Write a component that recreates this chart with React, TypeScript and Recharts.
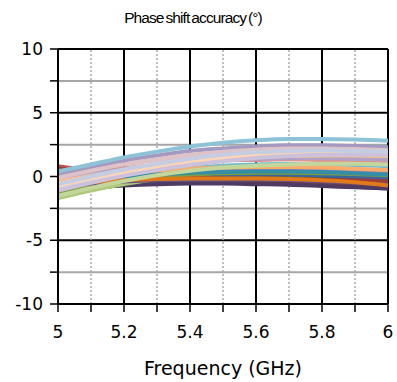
import { LineChart, Line, XAxis, YAxis, ReferenceLine, Label } from "recharts";

const freqs = [5, 5.1, 5.2, 5.3, 5.4, 5.5, 5.6, 5.7, 5.8, 5.9, 6];
const xTicks = [5, 5.1, 5.2, 5.3, 5.4, 5.5, 5.6, 5.7, 5.8, 5.9, 6];
const yTicks = [-10, -7.5, -5, -2.5, 0, 2.5, 5, 7.5, 10];

// phase error per state (deg), one row per phase state
const phaseError: number[][] = [
  [-1.0, -0.7, -0.45, -0.25, -0.1, 0.0, 0.05, 0.05, 0.0, -0.1, -0.25],
  [0.8, 0.45, 0.15, -0.05, -0.15, -0.2, -0.25, -0.3, -0.35, -0.45, -0.55],
  [-1.3, -0.85, -0.45, -0.15, 0.05, 0.15, 0.2, 0.2, 0.15, 0.05, -0.05],
  [-0.9, -0.75, -0.6, -0.5, -0.45, -0.45, -0.5, -0.55, -0.65, -0.8, -0.95],
  [-0.6, -0.4, -0.2, -0.05, 0.05, 0.1, 0.15, 0.15, 0.1, 0.0, -0.1],
  [-0.8, -0.6, -0.4, -0.25, -0.15, -0.1, -0.1, -0.15, -0.25, -0.4, -0.6],
  [-1.1, -0.8, -0.55, -0.4, -0.3, -0.25, -0.2, -0.2, -0.25, -0.35, -0.5],
  [0.5, 0.25, 0.05, -0.1, -0.2, -0.3, -0.35, -0.4, -0.45, -0.55, -0.65],
  [-1.5, -1.0, -0.6, -0.3, -0.1, 0.0, 0.05, 0.05, 0.0, -0.1, -0.2],
  [-1.0, -0.85, -0.7, -0.6, -0.55, -0.55, -0.6, -0.65, -0.75, -0.85, -0.95],
  [-0.7, -0.5, -0.3, -0.15, -0.05, 0.0, 0.0, 0.0, -0.05, -0.15, -0.25],
  [-0.5, -0.35, -0.25, -0.15, -0.1, -0.1, -0.1, -0.15, -0.25, -0.4, -0.55],
  [-0.8, -0.4, -0.05, 0.25, 0.45, 0.6, 0.65, 0.65, 0.6, 0.5, 0.35],
  [0.3, 0.3, 0.3, 0.3, 0.3, 0.3, 0.3, 0.25, 0.2, 0.1, 0.0],
  [-1.7, -1.1, -0.6, -0.2, 0.1, 0.3, 0.4, 0.45, 0.4, 0.35, 0.25],
  [-0.6, -0.3, 0.0, 0.2, 0.35, 0.45, 0.5, 0.5, 0.45, 0.35, 0.2],
  [-0.4, -0.05, 0.25, 0.5, 0.7, 0.85, 0.95, 1.0, 0.95, 0.9, 0.8],
  [-0.3, 0.0, 0.25, 0.45, 0.6, 0.7, 0.75, 0.75, 0.7, 0.6, 0.5],
  [-0.9, -0.6, -0.35, -0.15, 0.0, 0.1, 0.15, 0.15, 0.1, 0.0, -0.1],
  [0.6, 0.35, 0.15, 0.0, -0.1, -0.15, -0.2, -0.2, -0.25, -0.3, -0.4],
  [-1.2, -0.75, -0.35, -0.05, 0.15, 0.25, 0.3, 0.3, 0.25, 0.2, 0.1],
  [-0.7, -0.55, -0.4, -0.3, -0.25, -0.25, -0.25, -0.3, -0.4, -0.5, -0.65],
  [-0.5, -0.25, 0.0, 0.15, 0.3, 0.35, 0.4, 0.4, 0.35, 0.25, 0.15],
  [-0.6, -0.45, -0.3, -0.2, -0.15, -0.15, -0.15, -0.2, -0.3, -0.45, -0.7],
  [-0.3, 0.15, 0.55, 0.9, 1.15, 1.35, 1.45, 1.5, 1.5, 1.45, 1.4],
  [0.0, 0.35, 0.65, 0.9, 1.1, 1.25, 1.3, 1.35, 1.3, 1.25, 1.15],
  [-1.5, -0.9, -0.35, 0.1, 0.45, 0.7, 0.85, 0.95, 1.0, 1.0, 0.95],
  [-0.2, 0.2, 0.55, 0.85, 1.1, 1.3, 1.4, 1.45, 1.45, 1.4, 1.35],
  [-0.5, 0.05, 0.5, 0.9, 1.25, 1.5, 1.7, 1.8, 1.85, 1.85, 1.8],
  [-0.4, 0.05, 0.45, 0.8, 1.1, 1.35, 1.5, 1.6, 1.65, 1.65, 1.6],
  [-0.9, -0.3, 0.25, 0.7, 1.1, 1.4, 1.6, 1.75, 1.8, 1.8, 1.75],
  [0.1, 0.55, 0.95, 1.3, 1.6, 1.8, 1.95, 2.0, 2.0, 1.95, 1.9],
  [-0.7, -0.15, 0.35, 0.8, 1.15, 1.45, 1.65, 1.8, 1.85, 1.85, 1.8],
  [-1.1, -0.5, 0.05, 0.5, 0.9, 1.2, 1.45, 1.6, 1.7, 1.7, 1.7],
  [0.2, 0.75, 1.25, 1.65, 2.0, 2.2, 2.35, 2.45, 2.45, 2.4, 2.3],
  [-0.1, 0.45, 0.95, 1.35, 1.7, 1.95, 2.1, 2.2, 2.2, 2.15, 2.05],
  [-0.6, 0.0, 0.55, 1.0, 1.4, 1.7, 1.9, 2.0, 2.05, 2.0, 1.95],
  [0.4, 0.95, 1.5, 1.95, 2.35, 2.65, 2.85, 2.95, 2.95, 2.9, 2.8],
];

const lineColors = [
  "#4F81BD", "#C0504D", "#9BBB59", "#8064A2", "#4BACC6", "#F79646",
  "#2C4D75", "#772C2A", "#5F7530", "#4D3B62", "#276A7C", "#B65708",
  "#729ACA", "#CD7371", "#AFC97A", "#9983B5", "#6FBDD1", "#F9AB6B",
  "#3A679C", "#9F3B38", "#7E9D40", "#664F83", "#358EA6", "#E07A18",
  "#95B3D7", "#D99694", "#C3D69B", "#B3A2C7", "#93CDDD", "#FAC090",
  "#C6D3E6", "#E6B9B8", "#FCD5B5", "#CCC1DA", "#A499C0", "#DDC3C8",
  "#C4CDE2", "#8EC3D7",
];

const rows = freqs.map((f, i) => {
  const r: Record<string, number> = { f };
  phaseError.forEach((s, k) => (r["s" + k] = s[i]));
  return r;
});

const tickFont = { fontFamily: "DejaVu Sans", fontSize: 17, fill: "#000" };
const isMajorX = (v: number) => Math.round(v * 10) % 2 === 0;

export default function App() {
  return (
    <div style={{ position: "absolute", left: 0, top: 0, width: 397, height: 382, background: "#fff" }}>
      <div
        style={{
          position: "absolute",
          top: 9,
          left: 0,
          width: 386,
          textAlign: "center",
          fontFamily: "Liberation Sans",
          fontSize: 15.5,
          letterSpacing: -0.9,
          wordSpacing: -1.5,
        }}
      >
        Phase shift accuracy (°)
      </div>
      <LineChart width={397} height={382} data={rows} margin={{ top: 49, right: 9, left: 0, bottom: 0 }}>
        {yTicks.map((v) => (
          <ReferenceLine
            key={"h" + v}
            y={v}
            stroke={v % 5 === 0 ? "#000" : "#A6A6A6"}
            strokeWidth={2}
          />
        ))}
        {xTicks.map((v) => (
          <ReferenceLine
            key={"v" + v}
            x={v}
            stroke={isMajorX(v) ? "#000" : "#AAAAAA"}
            strokeWidth={isMajorX(v) ? 2 : 1.5}
            strokeDasharray={isMajorX(v) ? undefined : "2 2"}
          />
        ))}
        <XAxis
          dataKey="f"
          type="number"
          domain={[5, 6]}
          ticks={xTicks}
          tickFormatter={(v: number) => (isMajorX(v) ? String(v) : "")}
          tick={tickFont}
          tickSize={8}
          tickMargin={14}
          axisLine={{ stroke: "#000", strokeWidth: 2 }}
          tickLine={{ stroke: "#000", strokeWidth: 1.5 }}
          height={78}
        >
          <Label
            value="Frequency (GHz)"
            position="insideBottom"
            offset={7}
            style={{ fontFamily: "DejaVu Sans", fontSize: 19, fill: "#000" }}
          />
        </XAxis>
        <YAxis
          type="number"
          domain={[-10, 10]}
          ticks={yTicks}
          tickFormatter={(v: number) => (v % 5 === 0 ? String(v) : "")}
          tick={tickFont}
          tickSize={8}
          tickMargin={7}
          axisLine={{ stroke: "#000", strokeWidth: 2 }}
          tickLine={{ stroke: "#000", strokeWidth: 1.5 }}
          width={58}
          interval={0}
        />
        {phaseError.map((_, k) => (
          <Line
            key={k}
            dataKey={"s" + k}
            stroke={lineColors[k]}
            strokeWidth={4}
            dot={false}
            type="monotone"
            isAnimationActive={false}
          />
        ))}
      </LineChart>
    </div>
  );
}
